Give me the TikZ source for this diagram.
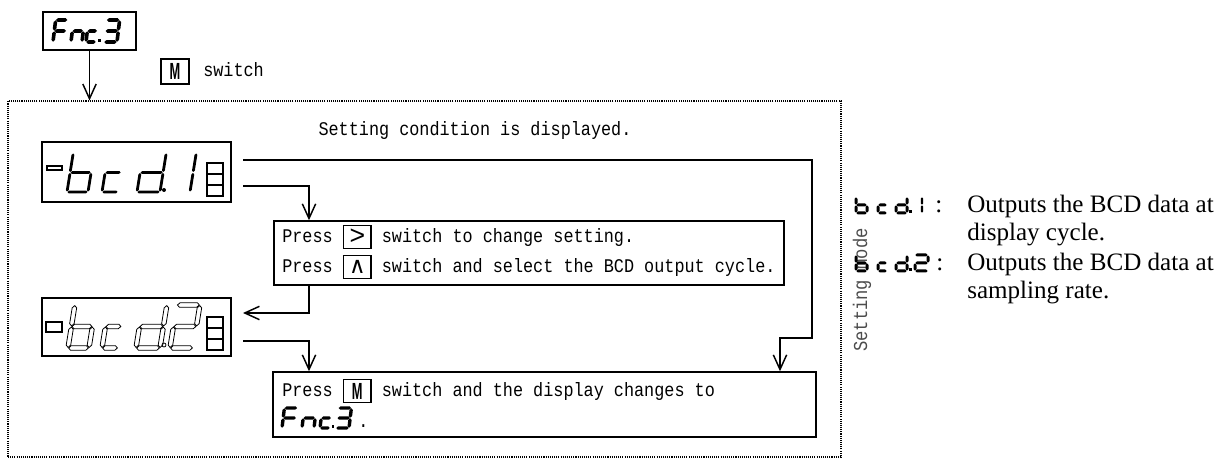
\documentclass[tikz,border=0pt]{standalone}
\usepackage{fontspec}
\usepackage{graphicx}
\usetikzlibrary{arrows.meta,fit,calc}

\newfontfamily\monof[FakeStretch=0.87]{Liberation Mono}
\newfontfamily\serf{Liberation Serif}
\newfontfamily\symf{DejaVu Sans}
\newfontfamily\keyf{Liberation Sans}

\newcommand\monotext{\monof\fontsize{14.5}{17}\selectfont}
\newcommand\legendtext{\serf\fontsize{18.8}{20}\selectfont}

% framed push-button symbols used inside the text lines
\newcommand\keybox[1]{\raisebox{-3.4pt}{\setlength\fboxsep{0pt}\setlength\fboxrule{1.1pt}%
  \fbox{\vbox to 15.8pt{\vss\hbox to 19.5pt{\hss#1\hss}\vss}}}}
\newcommand\keyM{{\keyf\bfseries\fontsize{17.5}{17.5}\selectfont\scalebox{0.55}[1]{M}}}
\newcommand\keyGt{{\keyf\fontsize{20}{20}\selectfont >}}
\newcommand\keyUp{{\symf\fontsize{17}{17}\selectfont ∧}}

% seven-segment glyphs: each segment is a small hexagon
\def\segGap{0.4}
\newcommand\hsegp[4]{% style, x1, x2, v
  \path[#1] ({#2+\segGap},{#4}) -- ({#2+\segGap+\segT/2},{#4+\segT/2}) -- ({#3-\segGap-\segT/2},{#4+\segT/2})
    -- ({#3-\segGap},{#4}) -- ({#3-\segGap-\segT/2},{#4-\segT/2}) -- ({#2+\segGap+\segT/2},{#4-\segT/2}) -- cycle;}
\newcommand\vsegp[4]{% style, x, v1, v2
  \path[#1] ({#2},{#3+\segGap}) -- ({#2+\segT/2},{#3+\segGap+\segT/2}) -- ({#2+\segT/2},{#4-\segGap-\segT/2})
    -- ({#2},{#4-\segGap}) -- ({#2-\segT/2},{#4-\segGap-\segT/2}) -- ({#2-\segT/2},{#3+\segGap+\segT/2}) -- cycle;}
\newcommand\segA[1]{\hsegp{#1}{0}{\segW}{\segH}}
\newcommand\segB[1]{\vsegp{#1}{\segW}{\segH/2}{\segH}}
\newcommand\segC[1]{\vsegp{#1}{\segW}{0}{\segH/2}}
\newcommand\segD[1]{\hsegp{#1}{0}{\segW}{0}}
\newcommand\segE[1]{\vsegp{#1}{0}{0}{\segH/2}}
\newcommand\segF[1]{\vsegp{#1}{0}{\segH/2}{\segH}}
\newcommand\segG[1]{\hsegp{#1}{0}{\segW}{\segH/2}}
% #1 style, #2 slant, #3 x, #4 baseline y, #5 width, #6 height, #7 thickness, #8 gap, #9 segments
\newcommand\sevseg[9]{%
  \begin{scope}[shift={(#3,#4)}, xslant=#2, yscale=-1]
    \def\segW{#5}\def\segH{#6}\def\segT{#7}\def\segGap{#8}%
    \foreach \s in {#9}{\csname seg\s\endcsname{#1}}
  \end{scope}}

\tikzset{
  x=0.75pt, y=-0.75pt,
  box/.style={draw, line width=1.1pt, inner sep=0pt},
  keynode/.style={draw, line width=1.1pt, inner sep=0pt},
  frameline/.style={draw, line width=0.8pt, dash pattern=on 0.8pt off 0.8pt, inner sep=0pt},
  wire/.style={line width=1.1pt},
  arrow/.style={wire, -{Straight Barb[length=11pt,width=10pt]}},
  txt/.style={inner sep=0pt, font=\monotext},
  lgd/.style={inner sep=0pt, font=\legendtext},
  segthin/.style={fill=black},
  segopen/.style={draw=black, line width=0.6pt, fill=white},
  segbold/.style={fill=black},
  stack/.style={line width=1.5pt},
}

\begin{document}
\begin{tikzpicture}
\useasboundingbox (0,0) rectangle (1215,459);

% function code display and the M switch
\node[box, fit={(43,12) (136,50)}] (fnctop) {};
\sevseg{segbold}{0.12}{53}{42}{12}{22}{3.6}{0.3}{A,E,F,G}
\sevseg{segbold}{0.12}{71}{42}{11}{22}{3.6}{0.3}{C,E,G}
\sevseg{segbold}{0.12}{86}{42}{10}{22}{3.6}{0.3}{D,E,G}
\fill (98,39.5) rectangle (100.5,42);
\sevseg{segbold}{0.12}{104}{42}{13}{22}{3.6}{0.3}{A,B,C,D,G}

\node[keynode, fit={(161,59) (189,84)}] (mkey) {};
\node[inner sep=0pt] (mkeytxt) at (mkey.center) {\keyM};
\node[txt, anchor=base west] (mswitch) at (203,77) {switch};

% setting area
\node[frameline, fit={(8,101) (841,457)}] (frame) {};
\node[txt, anchor=base] (cond) at (475,136) {Setting condition is displayed.};

% display: bcd.1
\node[box, fit={(42,142) (231,202)}] (disp1) {};
\draw[line width=0.9pt] (47,166) rectangle (62,170);
\sevseg{segthin}{0.16}{67}{192}{21}{39}{2.8}{0.5}{C,D,E,F,G}
\sevseg{segthin}{0.16}{102}{192}{16}{39}{2.8}{0.5}{D,E,G}
\sevseg{segthin}{0.16}{137}{192}{23}{39}{2.8}{0.5}{B,C,D,E,G}
\fill (164,190) circle (2);
\sevseg{segthin}{0.16}{176}{192}{14}{39}{2.8}{0.5}{B,C}
\foreach \t in {163,174,185}{\draw[stack] (207,\t) rectangle (223,\t+11);}

% display: bcd.2
\node[box, fit={(42,298) (231,356)}] (disp2) {};
\draw[line width=1.4pt] (46,322) rectangle (62,332);
\sevseg{segopen}{0.16}{68}{348}{21}{43}{4.5}{0.6}{C,D,E,F,G}
\sevseg{segopen}{0.16}{102}{348}{16}{43}{4.5}{0.6}{D,E,G}
\sevseg{segopen}{0.16}{136}{348}{24}{43}{4.5}{0.6}{B,C,D,E,G}
\draw[line width=0.6pt] (164,345) circle (2);
\sevseg{segopen}{0.16}{170}{348}{23}{43}{4.5}{0.6}{A,B,D,E,G}
\foreach \t in {317,328,339}{\draw[stack] (207,\t) rectangle (223,\t+11);}

% instruction boxes
\node[box, fit={(274,221) (784,285)}] (box1) {};
\node[txt, anchor=base west] (box1a) at (282,243) {Press \keybox{\keyGt} switch to change setting.};
\node[txt, anchor=base west] (box1b) at (282,273) {Press \keybox{\keyUp} switch and select the BCD output cycle.};

\node[box, fit={(273,372) (816,437)}] (box2) {};
\node[txt, anchor=base west] (box2a) at (282,397) {Press \keybox{\keyM} switch and the display changes to};
\sevseg{segbold}{0.12}{282}{428}{13}{20}{3.4}{0.3}{A,E,F,G}
\sevseg{segbold}{0.12}{302}{428}{12}{20}{3.4}{0.3}{C,E,G}
\sevseg{segbold}{0.12}{320}{428}{10}{20}{3.4}{0.3}{D,E,G}
\fill (331.5,425.5) rectangle (334,428);
\sevseg{segbold}{0.12}{336}{428}{13}{20}{3.4}{0.3}{A,B,C,D,G}
\node[txt, anchor=base west] (box2b) at (358,428) {.};

% connectors
\coordinate (d1t) at (243,160);
\coordinate (d1b) at (243,186);
\coordinate (d2t) at (243,313);
\coordinate (d2b) at (243,341);
\coordinate (bend1) at (812,338);
\coordinate (drop1) at (780,338);
\coordinate (drop2) at (309,186);

\draw[arrow] (fnctop.south) -- (fnctop.south |- frame.north);
\draw[arrow] (d1t) -| (bend1) -- (drop1) -- (drop1 |- box2.north);
\draw[arrow] (d1b) -- (drop2) -- (drop2 |- box1.north);
\draw[arrow] (box1.south -| drop2) |- (d2t);
\draw[arrow] (d2b) -| (box2.north -| drop2);

% side label and legend
\node[txt, rotate=90, text=black!70, font=\monof\fontsize{14.8}{17}\selectfont] (mode) at (862,290) {Setting mode};

\sevseg{segbold}{0}{856}{213}{11}{16}{3}{0.3}{C,D,E,F,G}
\sevseg{segbold}{0}{878}{213}{9}{16}{3}{0.3}{D,E,G}
\sevseg{segbold}{0}{896}{213}{11}{16}{3}{0.3}{B,C,D,E,G}
\fill (909,210.5) rectangle (911.5,213);
\sevseg{segbold}{0}{911}{213}{11}{16}{2.2}{0.3}{B,C}
\node[lgd, anchor=base west] (lg1c) at (935,213) {:};
\node[lgd, anchor=base west] (lg1a) at (967,213) {Outputs the BCD data at};
\node[lgd, anchor=base west] (lg1b) at (967,241) {display cycle.};

\sevseg{segbold}{0}{856}{271}{11}{16}{3}{0.3}{C,D,E,F,G}
\sevseg{segbold}{0}{878}{271}{9}{16}{3}{0.3}{D,E,G}
\sevseg{segbold}{0}{896}{271}{11}{16}{3}{0.3}{B,C,D,E,G}
\fill (909,268.5) rectangle (911.5,271);
\sevseg{segbold}{0}{915}{271}{13}{16}{3}{0.3}{A,B,D,E,G}
\node[lgd, anchor=base west] (lg2c) at (936,271) {:};
\node[lgd, anchor=base west] (lg2a) at (967,271) {Outputs the BCD data at};
\node[lgd, anchor=base west] (lg2b) at (967,299) {sampling rate.};
\end{tikzpicture}
\end{document}
